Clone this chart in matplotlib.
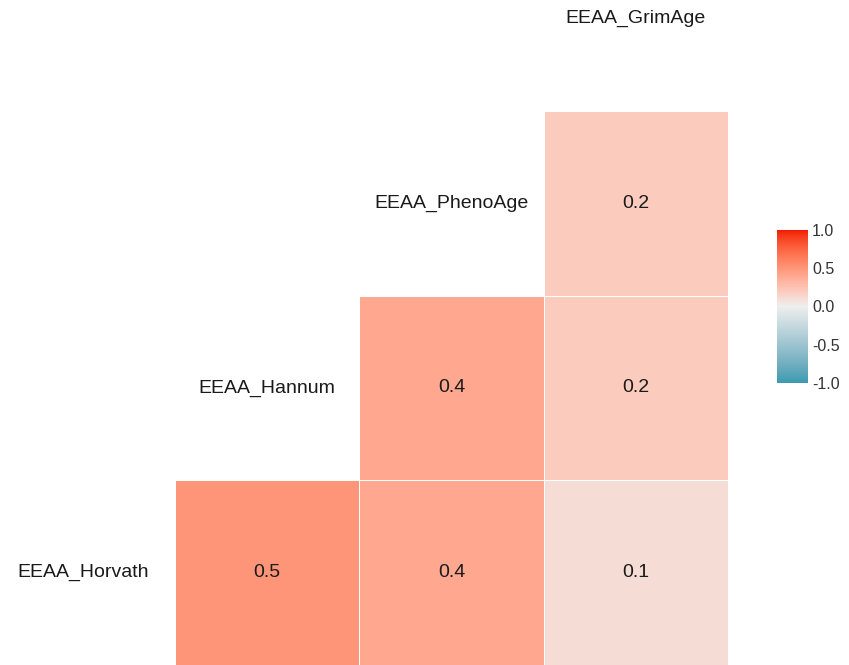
import numpy as np
import matplotlib
matplotlib.use("Agg")
import matplotlib.pyplot as plt
from matplotlib.colors import ListedColormap, Normalize

plt.rcParams['font.family'] = ['Liberation Sans', 'DejaVu Sans']

variables = ["EEAA_Horvath", "EEAA_Hannum", "EEAA_PhenoAge", "EEAA_GrimAge"]
# correlations of each row variable with the later variables
corr_horvath = [0.5, 0.4, 0.1]
corr_hannum = [0.4, 0.2]
corr_phenoage = [0.2]

low, mid, high = "#3B9AB2", "#EEEEEE", "#F21A00"


def hex_rgb(h):
    h = h.lstrip("#")
    return np.array([int(h[i:i + 2], 16) for i in (0, 2, 4)]) / 255.0


def rgb_to_lab(rgb):
    c = np.where(rgb > 0.04045, ((rgb + 0.055) / 1.055) ** 2.4, rgb / 12.92)
    m = np.array([[0.4124, 0.3576, 0.1805],
                  [0.2126, 0.7152, 0.0722],
                  [0.0193, 0.1192, 0.9505]])
    xyz = m @ c / np.array([0.95047, 1.0, 1.08883])
    f = np.where(xyz > 0.008856, np.cbrt(xyz), 7.787 * xyz + 16 / 116)
    return np.array([116 * f[1] - 16, 500 * (f[0] - f[1]), 200 * (f[1] - f[2])])


def lab_to_rgb(lab):
    fy = (lab[0] + 16) / 116
    fx = fy + lab[1] / 500
    fz = fy - lab[2] / 200
    f = np.array([fx, fy, fz])
    xyz = np.where(f ** 3 > 0.008856, f ** 3, (f - 16 / 116) / 7.787)
    xyz = xyz * np.array([0.95047, 1.0, 1.08883])
    m = np.array([[3.2406, -1.5372, -0.4986],
                  [-0.9689, 1.8758, 0.0415],
                  [0.0557, -0.2040, 1.0570]])
    c = m @ xyz
    c = np.where(c > 0.0031308, 1.055 * np.clip(c, 0, None) ** (1 / 2.4) - 0.055, 12.92 * c)
    return np.clip(c, 0, 1)


def div_cmap(n=256):
    # gradient low -> mid -> high, interpolated in Lab space
    anchors = [rgb_to_lab(hex_rgb(h)) for h in (low, mid, high)]
    cols = []
    for t in np.linspace(0, 1, n):
        if t < 0.5:
            a, b, s = anchors[0], anchors[1], t / 0.5
        else:
            a, b, s = anchors[1], anchors[2], (t - 0.5) / 0.5
        cols.append(lab_to_rgb(a + (b - a) * s))
    return ListedColormap(cols)


cmap = div_cmap()
norm = Normalize(-1, 1)

n = len(variables) - 1
mat = np.full((n, n), np.nan)
for i, row in enumerate([corr_horvath, corr_hannum, corr_phenoage]):
    for k, v in enumerate(row):
        mat[i, i + k] = v

fig = plt.figure(figsize=(8.49, 6.65), dpi=100)
ax = fig.add_axes([0, 0, 1, 1])
edges = np.arange(n + 1) + 0.5
mesh = ax.pcolormesh(edges, edges, np.ma.masked_invalid(mat), cmap=cmap, norm=norm,
                     edgecolors="white", linewidth=0.6)

for i in range(n):
    for j in range(n):
        if not np.isnan(mat[i, j]):
            ax.text(j + 1, i + 1, f"{mat[i, j]:.1f}", ha="center", va="center",
                    fontsize=14, color="#1a1a1a")

# variable names along the diagonal
for i, name in enumerate(variables):
    ax.text(i, i + 1, name, ha="center", va="center", fontsize=14, color="#1a1a1a")

ax.set_xlim(-0.449, 4.156)
ax.set_ylim(0.5, 4.101)
ax.axis("off")

cax = fig.add_axes([0.915, 0.4241, 0.0365, 0.2301])
cb = fig.colorbar(mesh, cax=cax, ticks=[-1, -0.5, 0, 0.5, 1])
cb.ax.set_yticklabels(["-1.0", "-0.5", "0.0", "0.5", "1.0"])
cb.outline.set_visible(False)
cb.ax.tick_params(length=0, labelsize=11.5, labelcolor="#333333", pad=3)

fig.savefig("out.png", dpi=100)
